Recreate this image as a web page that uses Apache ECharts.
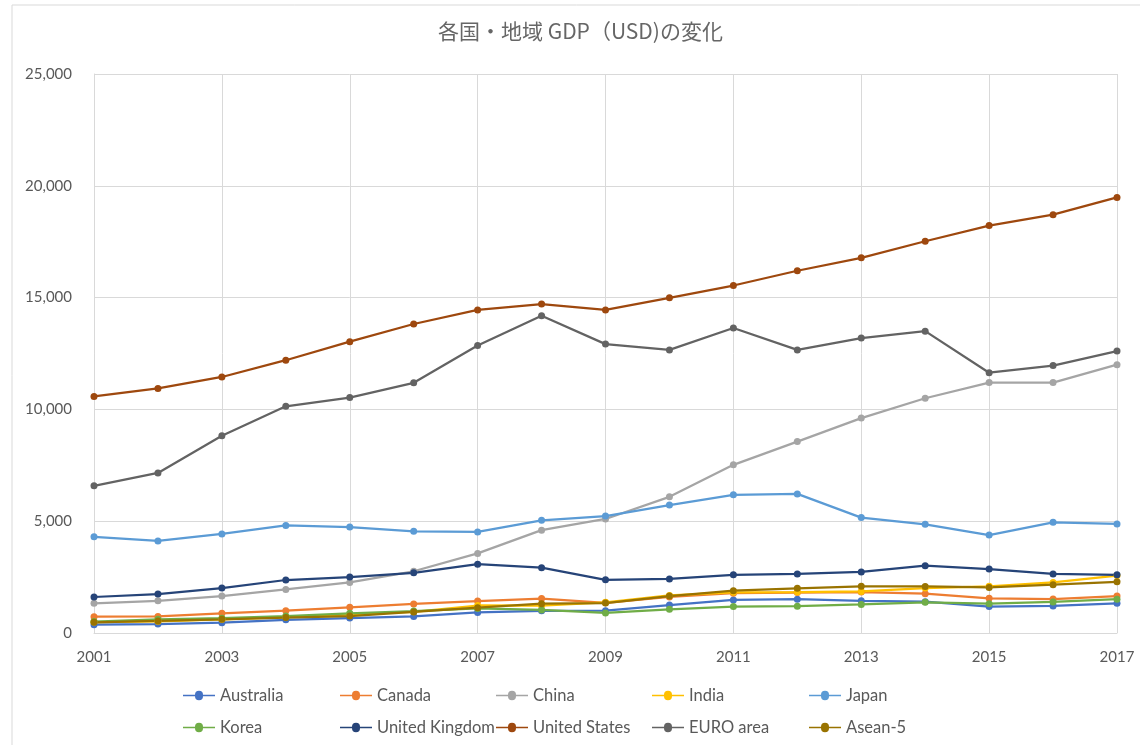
<!DOCTYPE html>
<html>
<head>
<meta charset="utf-8">
<script src="https://cdn.jsdelivr.net/npm/echarts@6/dist/echarts.min.js"></script>
<style>html,body{margin:0;padding:0;background:#fff}#c{width:1140px;height:745px}</style>
</head>
<body>
<div id="c"></div>
<script>
const years = ['2001','2002','2003','2004','2005','2006','2007','2008','2009','2010','2011','2012','2013','2014','2015','2016','2017'];
const australia = [370,400,460,590,670,740,920,990,1000,1250,1480,1510,1440,1400,1180,1210,1330];
const canada = [730,740,880,1000,1150,1300,1430,1540,1350,1610,1780,1810,1830,1760,1550,1520,1650];
const china = [1330,1440,1650,1950,2260,2760,3560,4600,5100,6090,7520,8560,9610,10500,11200,11200,12000];
const india = [490,520,610,710,830,950,1230,1220,1370,1680,1820,1830,1860,2010,2090,2260,2570];
const japan = [4300,4120,4430,4810,4740,4550,4520,5040,5230,5720,6180,6220,5160,4860,4380,4950,4880];
const korea = [510,610,660,760,880,980,1100,1030,900,1060,1180,1200,1280,1370,1310,1390,1510];
const uk = [1610,1740,2010,2370,2500,2690,3080,2920,2380,2420,2600,2640,2730,3010,2860,2640,2600];
const us = [10580,10940,11450,12200,13030,13820,14450,14710,14450,14990,15540,16200,16780,17520,18220,18710,19480];
const euro = [6580,7160,8820,10140,10530,11190,12860,14190,12920,12660,13640,12660,13190,13500,11640,11960,12610];
const asean5 = [480,540,610,690,760,940,1130,1310,1340,1650,1890,2000,2090,2080,2040,2160,2290];
const yTicks = [0,5000,10000,15000,20000,25000];

const names = ['Australia','Canada','China','India','Japan','Korea','United Kingdom','United States','EURO area','Asean-5'];
const datas = [australia,canada,china,india,japan,korea,uk,us,euro,asean5];
const colors = ['#4472C4','#ED7D31','#A5A5A5','#FFC000','#5B9BD5','#70AD47','#264478','#9E480E','#636363','#997300'];

const font = 'Lato, "Noto Sans", sans-serif';
const series = names.map((n,i)=>({
  name:n, type:'line', data:datas[i], color:colors[i],
  symbol:'circle', symbolSize:7, showSymbol:true,
  lineStyle:{width:2.25, color:colors[i]}, itemStyle:{color:colors[i]},
  emphasis:{disabled:true}, animation:false, z: 2
}));
const colX = [183,340,496,652,809];
const rowY = [687,719];
const legends = names.map((n,i)=>({
  data:[n], left:colX[i%5], top:rowY[Math.floor(i/5)], padding:0,
  itemWidth:32, itemHeight:10, itemGap:5,
  icon:'path://M0,4.2L12,4.2A4,4 0 1 1 20,4.2L32,4.2L32,5.8L20,5.8A4,4 0 1 1 12,5.8L0,5.8Z',
  textStyle:{fontFamily:font, fontSize:16.5, color:'#595959', padding:[0,0,0,0]},
  selectedMode:false
}));

const chart = echarts.init(document.getElementById('c'));
chart.setOption({
  backgroundColor:'#fff',
  animation:false,
  title:{text:'各国・地域 GDP（USD)の変化', left:438, top:21, padding:0,
    textStyle:{fontFamily:'"Noto Sans CJK JP", sans-serif', fontSize:21, fontWeight:'normal', color:'#666666'}},
  graphic:[{type:'rect', shape:{x:12,y:5,width:1140,height:760}, style:{fill:'none', stroke:'#d9d9d9', lineWidth:1}, silent:true}],
  legend: legends,
  grid:{left:94, right:23, top:74, bottom:112, containLabel:false},
  xAxis:{type:'category', data:years, boundaryGap:false,
    axisLine:{show:true, lineStyle:{color:'#d9d9d9', width:1}},
    axisTick:{show:false},
    axisLabel:{interval:1, margin:17, fontFamily:font, fontSize:15, color:'#595959'},
    splitLine:{show:true, interval:1, lineStyle:{color:'#d9d9d9', width:1}}
  },
  yAxis:{type:'value', min:yTicks[0], max:yTicks[yTicks.length-1], interval:5000,
    axisLine:{show:true, lineStyle:{color:'#d9d9d9'}},
    axisTick:{show:false},
    axisLabel:{margin:22, fontFamily:font, fontSize:15, color:'#595959',
      formatter:v=>v.toLocaleString('en-US')},
    splitLine:{show:true, lineStyle:{color:'#d9d9d9', width:1}}
  },
  series: series
});
</script>
</body>
</html>
